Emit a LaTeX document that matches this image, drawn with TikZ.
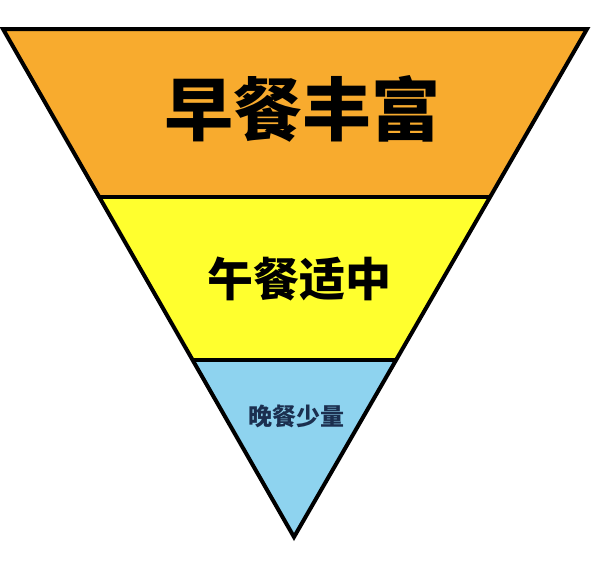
\documentclass[tikz,border=0pt]{standalone}
\usepackage{fontspec}
\usetikzlibrary{calc}
\newfontfamily\cjk{Noto Sans CJK SC}
\definecolor{bandorange}{HTML}{F8AB2E}
\definecolor{bandyellow}{HTML}{FFFF2E}
\definecolor{bandblue}{HTML}{8ED3EF}
\definecolor{navytext}{HTML}{1B2F4F}
\tikzset{
  edge/.style={line width=4pt, line join=miter, black},
  label/.style={font=\cjk\bfseries, inner sep=0pt, anchor=center}
}
\begin{document}
\begin{tikzpicture}[x=1pt,y=-1pt]
\useasboundingbox (0,0) rectangle (592,563);
% corners
\coordinate (tl) at (3,29);
\coordinate (tr) at (587,29);
\coordinate (ap) at (294,537);
\coordinate (l1) at ($(tl)!0.331!(ap)$);
\coordinate (r1) at ($(tr)!0.331!(ap)$);
\coordinate (l2) at ($(tl)!0.651!(ap)$);
\coordinate (r2) at ($(tr)!0.651!(ap)$);
\fill[bandorange] (tl) -- (tr) -- (r1) -- (l1) -- cycle;
\fill[bandyellow] (l1) -- (r1) -- (r2) -- (l2) -- cycle;
\fill[bandblue] (l2) -- (r2) -- (ap) -- cycle;
\draw[edge] (l1) -- (r1);
\draw[edge] (l2) -- (r2);
\draw[edge] (tl) -- (tr) -- (ap) -- cycle;
\node[label, font=\cjk\bfseries\fontsize{69}{69}\selectfont] (b) at (302,109) {早餐丰富};
\node[label, font=\cjk\bfseries\fontsize{46}{46}\selectfont] (m) at (299,279) {午餐适中};
\node[label, font=\cjk\bfseries\fontsize{24}{24}\selectfont, text=navytext] (s) at (296,416) {晚餐少量};
\end{tikzpicture}
\end{document}
